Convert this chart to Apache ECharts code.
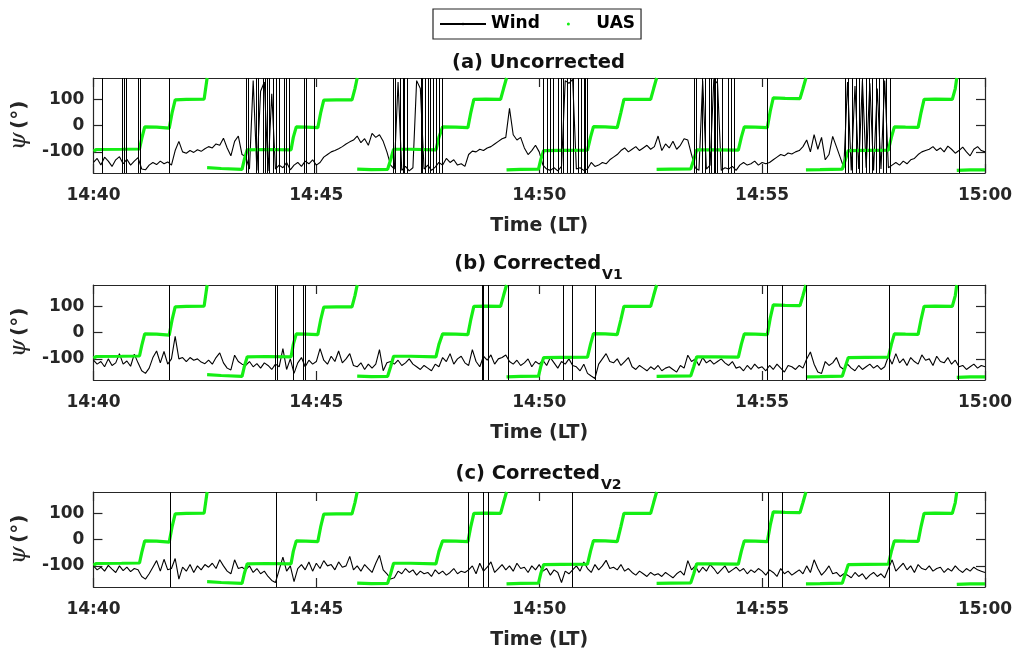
<!DOCTYPE html>
<html>
<head>
<meta charset="utf-8">
<script src="https://cdn.jsdelivr.net/npm/echarts@6/dist/echarts.min.js"></script>
<style>
  html, body { margin: 0; padding: 0; background: #fff; }
  #chart { width: 1018px; height: 652px; }
</style>
</head>
<body>
<div id="chart"></div>
<script>
// Wind direction from a sonic anemometer on a rotating UAS, 14:40–15:00 LT.
// Time is in seconds after 14:40; psi is in degrees.
const WIND_STEP = 5;                       // seconds between wind samples
const timeTicks = [0, 300, 600, 900, 1200];
const timeLabels = ['14:40', '14:45', '14:50', '14:55', '15:00'];
const psiTicks = [-100, 0, 100];

// (a) uncorrected wind direction
const windA = [
  -140,-125,-150,-120,-135,-155,-130,-118,-145,-128,
  -150,-135,-122,-165,-168,-150,-140,-148,-135,-145,
  -138,-150,-95,-60,-100,-105,-95,-102,-92,-98,
  -88,-80,-85,-70,-75,-48,-85,-115,-60,-40,
  -110,-118,-165,170,-170,130,165,-172,120,-165,
  -150,-160,-140,-168,-150,-140,-155,-135,-145,-130,
  -150,-140,-120,-110,-100,-95,-88,-80,-70,-62,
  -55,-40,-65,-50,-75,-30,-45,-35,-60,-100,
  -150,-165,165,-170,-155,-172,-160,170,140,-165,
  -150,-170,-158,-140,-150,-125,-140,-130,-150,-145,
  -155,-110,-97,-100,-90,-95,-85,-80,-70,-60,
  -50,-45,65,-35,-55,-45,-85,-110,-95,-75,
  -100,-150,-165,-170,-160,-172,-155,170,160,175,
  -165,-160,-170,-165,-140,-155,-150,-140,-145,-130,
  -120,-110,-95,-85,-100,-90,-80,-95,-85,-75,
  -90,-80,-40,-95,-70,-85,-60,-90,-75,-50,
  -55,-110,-160,-170,170,-165,-150,175,160,-170,
  -160,-165,-155,-170,-150,-140,-150,-145,-135,-150,
  -140,-145,-140,-130,-120,-110,-115,-104,-108,-100,
  -95,-80,-55,-100,-35,-90,-45,-130,-110,-41,
  -80,-120,-160,165,-170,150,-165,170,-160,160,
  -170,140,-165,170,-160,-150,-140,-150,-135,-145,
  -130,-125,-110,-100,-95,-90,-80,-95,-85,-100,
  -78,-90,-105,-95,-82,-100,-115,-90,-80,-95,
  -100
];
// seconds at which the wind direction wraps across ±180°
const wrapsA = [
  12, 39, 42, 44, 60, 63, 102,
  206, 208, 219, 222, 228, 231, 234, 236, 242, 246, 250, 257, 259, 263,
  284, 286, 297,
  403, 406, 413, 417, 419, 422, 441, 443, 446, 447, 450, 453, 454, 457, 462, 465, 469,
  606, 611, 615, 619, 625, 629, 633, 638, 642, 646, 652, 656, 660, 662, 665,
  808, 811, 820, 823, 829, 832, 835, 837, 840, 847, 855, 859, 863,
  907,
  1012, 1016, 1021, 1027, 1031, 1035, 1040, 1044, 1048, 1054, 1058, 1063, 1067, 1072,
  1166
];

// (b) corrected, version 1
const windB = [
  -105,-120,-110,-130,-100,-125,-115,-80,-120,-108,
  -128,-82,-115,-145,-155,-135,-95,-70,-115,-72,
  -120,-100,-15,-100,-95,-110,-95,-105,-100,-112,
  -118,-105,-120,-95,-77,-115,-135,-142,-86,-110,
  -120,-125,-110,-130,-118,-135,-115,-125,-140,-120,
  -130,-61,-140,-100,-155,-115,-95,-130,-105,-120,
  -110,-61,-105,-120,-90,-110,-70,-115,-100,-80,
  -125,-130,-115,-140,-120,-135,-120,-65,-145,-115,
  -110,-120,-105,-125,-115,-100,-120,-130,-140,-125,
  -135,-145,-120,-130,-95,-110,-80,-120,-100,-90,
  -115,-125,-65,-110,-130,-90,-105,-85,-120,-100,
  -95,-85,-110,-120,-105,-125,-115,-100,-130,-110,
  -120,-105,-125,-95,-115,-135,-110,-120,-100,-125,
  -130,-145,-120,-155,-165,-174,-120,-100,-80,-110,
  -115,-100,-125,-110,-95,-130,-140,-125,-135,-145,
  -130,-140,-125,-145,-135,-130,-140,-150,-125,-135,
  -86,-110,-100,-125,-95,-115,-105,-120,-110,-100,
  -115,-125,-110,-135,-130,-145,-125,-140,-120,-135,
  -130,-145,-125,-140,-120,-135,-150,-125,-130,-140,
  -125,-135,-100,-74,-120,-150,-155,-110,-125,-115,
  -95,-130,-140,-120,-135,-145,-125,-140,-130,-120,
  -135,-125,-140,-130,-90,-120,-80,-115,-100,-125,
  -95,-110,-120,-85,-105,-100,-125,-90,-110,-115,
  -95,-120,-105,-130,-125,-140,-130,-120,-135,-125,
  -130
];
const wrapsB = [102, 245, 247, 269, 282, 285, 523, 525, 531, 558, 632, 645, 676, 907, 927, 959, 1071, 1164];

// (c) corrected, version 2
const windC = [
  -100,-115,-105,-120,-98,-112,-125,-100,-118,-105,
  -122,-110,-115,-140,-150,-130,-105,-80,-120,-75,
  -115,-110,-72,-150,-105,-120,-95,-125,-100,-115,
  -95,-105,-90,-110,-77,-100,-120,-130,-77,-110,
  -105,-115,-100,-125,-110,-130,-120,-140,-155,-163,
  -115,-67,-120,-100,-160,-110,-95,-115,-85,-120,
  -90,-110,-80,-100,-95,-115,-85,-105,-100,-64,
  -115,-100,-120,-95,-110,-125,-90,-60,-115,-130,
  -150,-145,-120,-130,-110,-125,-115,-135,-120,-130,
  -125,-140,-115,-130,-120,-135,-125,-110,-130,-120,
  -125,-115,-100,-130,-90,-120,-105,-85,-125,-110,
  -95,-115,-100,-120,-90,-110,-105,-125,-100,-115,
  -95,-120,-110,-135,-115,-125,-163,-120,-130,-115,
  -100,-120,-85,-110,-125,-95,-115,-100,-79,-110,
  -105,-115,-95,-120,-110,-125,-135,-120,-130,-140,
  -125,-135,-130,-140,-125,-135,-145,-130,-120,-135,
  -80,-115,-100,-125,-105,-120,-95,-110,-130,-115,
  -100,-125,-115,-105,-120,-110,-130,-115,-125,-110,
  -120,-135,-115,-125,-140,-110,-130,-120,-135,-125,
  -115,-130,-100,-125,-77,-110,-135,-120,-100,-130,
  -125,-140,-130,-135,-145,-125,-140,-130,-150,-135,
  -125,-140,-130,-145,-110,-77,-120,-105,-90,-115,
  -100,-125,-95,-110,-115,-100,-120,-110,-105,-125,
  -110,-120,-100,-115,-125,-110,-120,-105,-115,-120,
  -125
];
const wrapsC = [103, 246, 505, 524, 525, 531, 645, 908, 927, 1071];

// UAS heading (same in every panel); null marks the ±180° wrap
const uasTime = [
  0, 4, 38, 62, 65, 69, 71, 85, 102, 106, 110, 125, 149, 153, 153,
  153, 172, 200, 203, 207, 232, 266, 269, 273, 286, 302, 306, 310, 327, 348, 352, 355, 355,
  355, 374, 396, 400, 404, 427, 461, 465, 470, 488, 504, 508, 512, 528, 548, 552, 556, 556,
  556, 575, 599, 602, 606, 629, 665, 669, 673, 689, 705, 710, 714, 730, 750, 754, 758, 758,
  758, 777, 804, 808, 812, 837, 868, 872, 876, 891, 907, 911, 915, 931, 951, 955, 959, 959,
  959, 978, 1008, 1012, 1016, 1039, 1070, 1074, 1078, 1093, 1110, 1114, 1118, 1133, 1156, 1160, 1162, 1162,
  1162, 1180, 1200
];
const uasPsi = [
  -97, -91, -90, -89, -50, -5, -3, -6, -10, 50, 97, 99, 100, 180, null,
  -160, -163, -166, -130, -92, -91, -92, -45, -5, -6, -8, 50, 96, 97, 97, 140, 180, null,
  -165, -167, -166, -130, -90, -90, -92, -45, -5, -6, -8, 50, 99, 100, 99, 140, 180, null,
  -168, -166, -165, -130, -95, -94, -93, -45, -4, -5, -8, 50, 99, 99, 99, 140, 180, null,
  -166, -165, -164, -130, -92, -92, -93, -45, -5, -6, -8, 55, 105, 103, 102, 140, 180, null,
  -168, -167, -165, -130, -95, -94, -93, -45, -5, -6, -7, 50, 99, 100, 99, 140, 180, null,
  -170, -168, -168
];

const panelTitles = ['(a) Uncorrected', '(b) Corrected', '(c) Corrected'];
const panelSubs = ['', 'V1', 'V2'];
const panelWind = [windA, windB, windC];
const panelWraps = [wrapsA, wrapsB, wrapsC];

const FONT = 'DejaVu Sans';
const INK = '#262626';
const GREEN = '#14ee14';
const PLOT_LEFT = 92, PLOT_WIDTH = 893;
const gridTops = [78, 285, 492];
const gridHeight = 95;
const titleTops = [57, 258, 468];

const grids = [], xAxes = [], yAxes = [], series = [], titles = [];

const labelFont = { fontFamily: FONT, fontWeight: 'bold', fontSize: 17, color: INK };
const frameLine = { show: true, onZero: false, lineStyle: { color: INK, width: 1.2 } };
const tickStyle = { color: INK, width: 1.2 };

panelTitles.forEach((title, k) => {
  grids.push({ left: PLOT_LEFT, width: PLOT_WIDTH, top: gridTops[k], height: gridHeight });

  const xBase = {
    gridIndex: k, type: 'value', min: 0, max: 1200, interval: 300,
    splitLine: { show: false }, axisLine: frameLine,
    axisTick: { show: true, inside: true, length: 9, lineStyle: tickStyle }
  };
  xAxes.push(Object.assign({}, xBase, {
    position: 'bottom',
    name: 'Time (LT)', nameLocation: 'middle', nameGap: 44,
    nameTextStyle: { fontFamily: FONT, fontWeight: 'bold', fontSize: 19, color: INK },
    axisLabel: Object.assign({
      show: true, margin: 14, showMinLabel: true, showMaxLabel: true,
      formatter: v => { const j = timeTicks.indexOf(v); return j >= 0 ? timeLabels[j] : ''; }
    }, labelFont)
  }));
  xAxes.push(Object.assign({}, xBase, { position: 'top', axisLabel: { show: false } }));

  const yBase = {
    gridIndex: k, type: 'value', min: -180, max: 180,
    splitLine: { show: false }, axisLine: frameLine,
    axisTick: { show: true, inside: true, length: 9, customValues: psiTicks, lineStyle: tickStyle }
  };
  yAxes.push(Object.assign({}, yBase, {
    position: 'left',
    name: '{p|ψ} {n|(°)}', nameLocation: 'middle', nameRotate: 90, nameGap: 54,
    nameTextStyle: {
      rich: {
        p: { fontFamily: 'DejaVu Serif', fontStyle: 'italic', fontSize: 23, color: INK },
        n: { fontFamily: FONT, fontWeight: 'bold', fontSize: 20, color: INK }
      }
    },
    axisLabel: Object.assign({ show: true, margin: 9, customValues: psiTicks }, labelFont)
  }));
  yAxes.push(Object.assign({}, yBase, { position: 'right', axisLabel: { show: false } }));

  const text = panelSubs[k] ? '{b|' + title + '}{s|' + panelSubs[k] + '}' : '{b|' + title + '}';
  titles.push({
    text, left: PLOT_LEFT + PLOT_WIDTH / 2, textAlign: 'center', top: titleTops[k] - 4, padding: 0,
    textStyle: {
      rich: {
        b: { fontFamily: FONT, fontWeight: 'bold', fontSize: 19.5, color: '#111', lineHeight: 24, verticalAlign: 'top' },
        s: { fontFamily: FONT, fontWeight: 'bold', fontSize: 14, color: '#111', padding: [14, 0, 0, 1], verticalAlign: 'top' }
      }
    }
  });

  series.push({
    type: 'line', name: 'Wind', xAxisIndex: 2 * k, yAxisIndex: 2 * k,
    data: panelWind[k].map((v, i) => [i * WIND_STEP, v]),
    symbol: 'none', showSymbol: false, z: 2,
    lineStyle: { color: '#000', width: 1.1 }, itemStyle: { color: '#000' },
    markLine: {
      silent: true, symbol: 'none', label: { show: false },
      lineStyle: { color: '#000', width: 1, type: 'solid' },
      data: panelWraps[k].map(t => ({ xAxis: t }))
    }
  });
  series.push({
    type: 'line', name: 'UAS', xAxisIndex: 2 * k, yAxisIndex: 2 * k,
    data: uasTime.map((t, i) => [t, uasPsi[i] === null ? '-' : uasPsi[i]]),
    symbol: 'none', showSymbol: false, z: 3, connectNulls: false,
    lineStyle: { color: GREEN, width: 3.2 }, itemStyle: { color: GREEN }
  });
});

const chart = echarts.init(document.getElementById('chart'), null, { renderer: 'canvas' });
chart.setOption({
  animation: false,
  backgroundColor: '#fff',
  title: titles,
  legend: {
    left: 433, top: 9, padding: [6, 6, 6, 6],
    itemWidth: 46, itemHeight: 3, itemGap: 27, selectedMode: false,
    borderColor: INK, borderWidth: 1.2, backgroundColor: '#fff',
    textStyle: { fontFamily: FONT, fontWeight: 'bold', fontSize: 17, color: '#000', lineHeight: 18 },
    data: [{ name: 'Wind' }, { name: 'UAS', icon: 'circle' }]
  },
  grid: grids,
  xAxis: xAxes,
  yAxis: yAxes,
  series
});
</script>
</body>
</html>
